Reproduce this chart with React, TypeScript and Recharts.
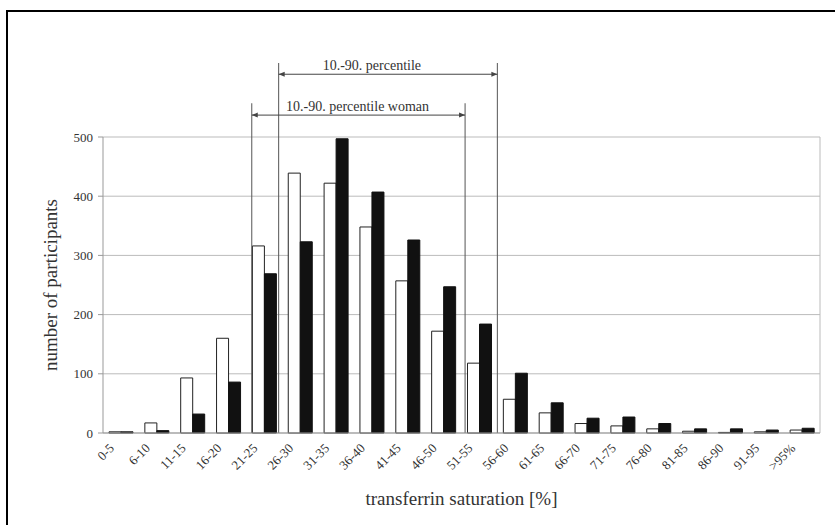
import { BarChart, Bar, XAxis, YAxis, CartesianGrid, ReferenceLine } from 'recharts'

const categories = [
  '0-5', '6-10', '11-15', '16-20', '21-25', '26-30', '31-35', '36-40', '41-45', '46-50',
  '51-55', '56-60', '61-65', '66-70', '71-75', '76-80', '81-85', '86-90', '91-95', '>95%',
]
const women = [2, 17, 93, 160, 316, 439, 422, 348, 257, 172, 118, 57, 34, 16, 12, 7, 3, 1, 2, 5]
const men = [2, 4, 32, 86, 269, 323, 497, 407, 326, 247, 184, 101, 51, 25, 27, 16, 7, 7, 5, 8]
const yTicks = [0, 100, 200, 300, 400, 500]

// percentile brackets, x in bin units (0 = left edge of the first bin), y in participants
const bracketLabels = ['10.-90. percentile', '10.-90. percentile woman']
const bracketFrom = [4.9, 4.15]
const bracketTo = [11.0, 10.1]
const bracketLevel = [606, 537]
const bracketTop = [625, 557]
const bracketLabelAt = [7.5, 7.1]

const data = categories.map((c, i) => ({ range: c, pos: i + 0.5, women: women[i], men: men[i] }))

const serif = '"Liberation Serif", "Times New Roman", serif'
const textColor = '#333'

function XTick({ x, y, payload }: any) {
  return (
    <g transform={`translate(${x - 6},${y + 8})`}>
      <text
        transform="rotate(-45)"
        textAnchor="end"
        fontSize={13}
        fontFamily={serif}
        fill={textColor}
      >
        {payload.value}
      </text>
    </g>
  )
}

function arrowShape(i: number) {
  return (p: any) => {
    const { x1, y1, x2 } = p
    const lx = x1 + ((x2 - x1) * (bracketLabelAt[i] - bracketFrom[i])) / (bracketTo[i] - bracketFrom[i])
    const c = '#444'
    return (
      <g>
        <line x1={x1} y1={y1} x2={x2} y2={y1} stroke={c} strokeWidth={1} />
        <polygon points={`${x1},${y1} ${x1 + 6},${y1 - 2.5} ${x1 + 6},${y1 + 2.5}`} fill={c} />
        <polygon points={`${x2},${y1} ${x2 - 6},${y1 - 2.5} ${x2 - 6},${y1 + 2.5}`} fill={c} />
        <text x={lx} y={y1 - 4} textAnchor="middle" fontSize={14} fontFamily={serif} fill={textColor}>
          {bracketLabels[i]}
        </text>
      </g>
    )
  }
}

export default function App() {
  return (
    <div style={{ position: 'absolute', left: 0, top: 0, width: 835, height: 525, overflow: 'hidden', background: '#fff' }}>
      <div
        style={{
          position: 'absolute', left: 6, top: 10, width: 900, height: 600,
          borderLeft: '2px solid #000', borderTop: '2px solid #000',
        }}
      />
      <div style={{ position: 'absolute', left: 0, top: 0 }}>
        <BarChart
          width={835}
          height={525}
          data={data}
          margin={{ top: 137, right: 15, bottom: 32, left: 30 }}
          barGap={0}
          barSize={12}
        >
          <CartesianGrid vertical={false} stroke="#bbb" />
          <XAxis
            dataKey="range"
            interval={0}
            height={60}
            tick={<XTick />}
            tickLine={false}
            axisLine={{ stroke: '#999' }}
            label={(props: any) => {
              const vb = props.viewBox
              return (
                <text x={vb.x + vb.width / 2} y={505} textAnchor="middle" fontSize={19} fontFamily={serif} fill={textColor}>
                  transferrin saturation [%]
                </text>
              )
            }}
          />
          <XAxis xAxisId="num" dataKey="pos" type="number" domain={[0, 20]} allowDataOverflow hide />
          <YAxis
            width={73}
            domain={[0, 500]}
            ticks={yTicks}
            tickSize={5}
            tickMargin={5}
            tick={{ fontSize: 13, fontFamily: serif, fill: textColor }}
            axisLine={{ stroke: '#999' }}
            tickLine={{ stroke: '#999' }}
            label={(props: any) => {
              const vb = props.viewBox
              const cy = vb.y + vb.height / 2
              return (
                <text
                  x={57}
                  y={cy}
                  transform={`rotate(-90 57 ${cy})`}
                  textAnchor="middle"
                  fontSize={19}
                  fontFamily={serif}
                  fill={textColor}
                >
                  number of participants
                </text>
              )
            }}
          />
          <ReferenceLine xAxisId="num" x={20} stroke="#bbb" ifOverflow="visible" />
          <Bar dataKey="women" fill="#fff" stroke="#222" strokeWidth={1} isAnimationActive={false} />
          <Bar dataKey="men" fill="#111" stroke="#111" strokeWidth={1} isAnimationActive={false} />
          {bracketLabels.map((_, i) => [
            <ReferenceLine
              key={`l${i}`}
              xAxisId="num"
              ifOverflow="visible"
              segment={[{ x: bracketFrom[i], y: 0 }, { x: bracketFrom[i], y: bracketTop[i] }]}
              stroke="#555"
            />,
            <ReferenceLine
              key={`r${i}`}
              xAxisId="num"
              ifOverflow="visible"
              segment={[{ x: bracketTo[i], y: 0 }, { x: bracketTo[i], y: bracketTop[i] }]}
              stroke="#555"
            />,
            <ReferenceLine
              key={`a${i}`}
              xAxisId="num"
              ifOverflow="visible"
              segment={[{ x: bracketFrom[i], y: bracketLevel[i] }, { x: bracketTo[i], y: bracketLevel[i] }]}
              shape={arrowShape(i)}
            />,
          ])}
        </BarChart>
      </div>
    </div>
  )
}
